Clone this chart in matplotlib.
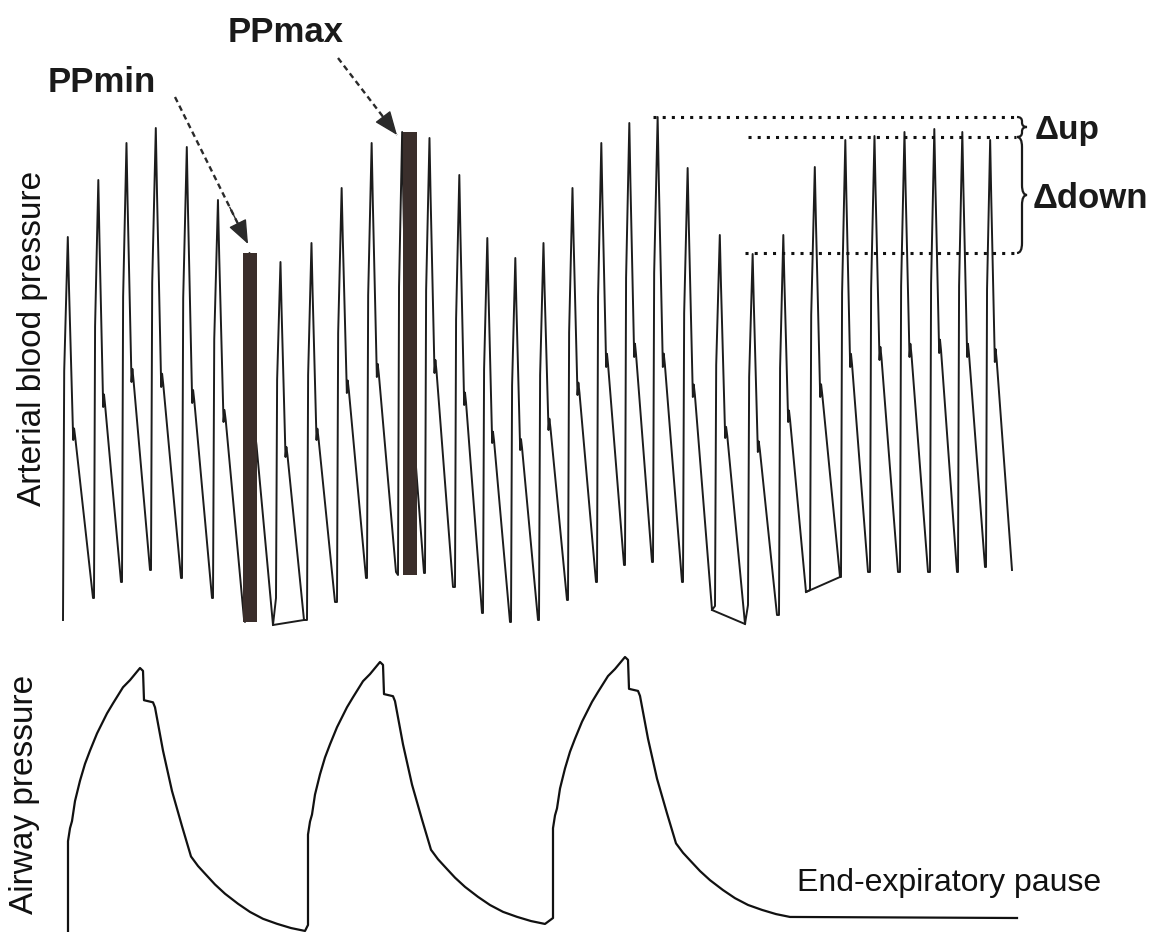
import matplotlib
matplotlib.use("Agg")
import matplotlib.pyplot as plt
from matplotlib.path import Path
from matplotlib.patches import PathPatch

plt.rcParams["font.family"] = ["Liberation Sans", "DejaVu Sans"]

# ---- arterial blood pressure, one entry per beat (time in s, pressure in mmHg)
BEAT_ONSET = [0.00, 0.31, 0.59, 0.88, 1.19, 1.50, 1.82, 2.13, 2.44, 2.74, 3.04,
              3.35, 3.62, 3.92, 4.20, 4.48, 4.76, 5.05, 5.34, 5.62, 5.90, 6.20,
              6.52, 6.85, 7.16, 7.47, 7.78, 8.07, 8.37, 8.67, 8.95, 9.23]
BEAT_END = [0.30, 0.58, 0.87, 1.18, 1.49, 1.81, 2.10, 2.41, 2.72, 3.03, 3.33,
            3.61, 3.90, 4.19, 4.47, 4.75, 5.04, 5.33, 5.61, 5.89, 6.19, 6.49,
            6.82, 7.14, 7.43, 7.77, 8.05, 8.35, 8.65, 8.94, 9.22, 9.49]
BEAT_TROUGH = [41.25, 46.75, 50.75, 53.75, 51.75, 46.75, 40.75, 46.75, 41.25, 45.75,
               51.75, 52.5, 53.0, 49.5, 43.0, 40.75, 41.25, 46.25, 50.75, 55.0,
               55.75, 50.75, 44.75, 45.0, 42.5, 48.75, 52.0, 53.25, 53.25, 53.25,
               53.25, 54.5]
BEAT_PEAK = [137.0, 151.25, 160.5, 164.25, 159.5, 146.25, 133.0, 130.75, 135.5, 149.25,
             160.5, 163.25, 161.75, 152.5, 136.75, 131.75, 135.5, 149.25, 160.5, 165.5,
             167.0, 154.25, 137.5, 132.75, 137.5, 154.5, 161.25, 162.25, 163.25, 164.0,
             163.25, 161.25]
BEAT_NOTCH = [86.25, 94.5, 100.75, 99.5, 95.5, 90.75, 84.5, 82.0, 86.25, 98.0,
              102.0, 103.25, 103.0, 95.0, 85.5, 83.75, 88.75, 97.5, 104.5, 107.0,
              104.5, 97.0, 86.75, 83.25, 90.75, 97.0, 104.5, 106.25, 107.0, 108.0,
              107.0, 105.75]
BEAT_END_P = [46.75, 50.75, 53.75, 51.75, 46.75, 41.5, 40.0, 41.25, 45.75, 51.75,
              53.25, 53.0, 49.5, 43.0, 40.75, 41.25, 46.25, 50.75, 55.0, 55.75,
              50.75, 43.75, 40.25, 42.5, 48.25, 52.0, 53.25, 53.25, 53.25, 53.25,
              54.5, 53.75]

# recorder glitches: bottom line joining the ends of two consecutive beats
BOX_BEATS = [(6, 7), (21, 22), (24, 25)]

# pulse pressure bars (PPmin, PPmax)
PP_BEAT = [6, 11]
PP_BAR_T = [1.87, 3.47]
PP_LABELS = ["PPmin", "PPmax"]

# systolic reference levels: maximum, apnea reference, minimum
SYS_LEVELS = [167.0, 162.0, 133.0]
SYS_LEVEL_START = [5.90, 6.85, 6.82]
SYS_LEVEL_END = 9.53

# ---- airway pressure (cmH2O)
BREATH_ONSET = [0.05, 2.45, 4.90]
BREATH_PEAK = [28.2, 28.8, 29.3]
BREATH_BASE = [1.8, 2.5, 3.2]
PAUSE_END = 9.54
# one breath: seconds after onset, fraction of peak
AW_T = [0.00, 0.00, 0.02, 0.04, 0.07, 0.12, 0.17, 0.22, 0.29, 0.39, 0.45, 0.55,
        0.62, 0.72, 0.75, 0.76, 0.85, 0.87, 0.95, 1.04, 1.14, 1.23, 1.30, 1.37,
        1.47, 1.57, 1.70, 1.82, 1.95, 2.09, 2.23, 2.37]
AW_F = [0.0, 0.344, 0.393, 0.420, 0.496, 0.573, 0.637, 0.687, 0.752, 0.828, 0.866,
        0.927, 0.954, 1.0, 0.989, 0.878, 0.870, 0.851, 0.687, 0.534, 0.401, 0.286,
        0.250, 0.221, 0.180, 0.145, 0.107, 0.076, 0.050, 0.031, 0.015, 0.004]

# beat morphology (fraction of the beat length)
SHAPE_F = [0.00, 0.04, 0.16, 0.20, 0.34, 0.37, 0.41, 1.00]

INK = "#1c1c1c"


def beat_points(i):
    on, end = BEAT_ONSET[i], BEAT_END[i]
    tr, pk, n, ep = BEAT_TROUGH[i], BEAT_PEAK[i], BEAT_NOTCH[i], BEAT_END_P[i]
    pp = pk - tr
    vals = [tr, tr + 0.65 * pp, pk, pk - 0.25 * (pk - n), n,
            n + 0.03 * pp, n + 0.005 * pp, ep]
    ts = [on + f * (end - on) for f in SHAPE_F]
    return ts, vals


def draw_brace(ax, x, y_top, y_bot, width, **kw):
    ym = (y_top + y_bot) / 2
    q = min((y_top - y_bot) * 0.22, 2.5)
    xm = x + width * 0.5
    verts = [(x, y_top), (xm, y_top), (xm, y_top - q), (xm, ym + q),
             (xm, ym), (x + width, ym), (xm, ym), (xm, ym - q),
             (xm, y_bot + q), (xm, y_bot), (x, y_bot)]
    codes = [Path.MOVETO, Path.CURVE3, Path.CURVE3, Path.LINETO,
             Path.CURVE3, Path.CURVE3, Path.CURVE3, Path.CURVE3,
             Path.LINETO, Path.CURVE3, Path.CURVE3]
    ax.add_patch(PathPatch(Path(verts, codes), fill=False, **kw))


fig = plt.figure(figsize=(11.7, 9.32), dpi=100)
fig.patch.set_facecolor("white")

ax = fig.add_axes([0, 292 / 932, 1, 640 / 932])
ax.set_xlim(-0.63, 11.07)
ax.set_ylim(36.25, 196.25)
ax.axis("off")

ax_aw = fig.add_axes([0, 0, 1, 292 / 932])
ax_aw.set_xlim(-0.63, 11.07)
ax_aw.set_ylim(1.8, 31.0)
ax_aw.axis("off")

# arterial trace
trace_t, trace_p = [], []
for i in range(len(BEAT_ONSET)):
    ts, vals = beat_points(i)
    trace_t += ts
    trace_p += vals
ax.plot(trace_t, trace_p, color=INK, lw=1.4)

for a, b in BOX_BEATS:
    ax.plot([BEAT_END[a], BEAT_END[b]], [BEAT_END_P[a], BEAT_END_P[b]],
            color=INK, lw=1.4)

# pulse pressure bars
for t, i in zip(PP_BAR_T, PP_BEAT):
    ax.bar(t, BEAT_PEAK[i] - BEAT_TROUGH[i], bottom=BEAT_TROUGH[i], width=0.14,
           color="#3a2e2b", edgecolor="none", zorder=3)

# labels with dashed arrows
label_pos = [(0.39, 175.5), (2.23, 188.25)]
arrow_from = [(1.12, 172.0), (2.75, 181.75)]
arrow_to = [(1.85, 135.25), (3.34, 162.5)]
for name, lp, a0, a1 in zip(PP_LABELS, label_pos, arrow_from, arrow_to):
    ax.text(lp[0], lp[1], name, fontsize=25, fontweight="bold", color="#1a1a1a",
            ha="center", va="center")
    ax.plot([a0[0], a1[0]], [a0[1], a1[1]], color="#2a2a2a", lw=1.7,
            linestyle=(0, (2.4, 1.7)))
    back = (a1[0] - 0.25 * (a1[0] - a0[0]), a1[1] - 0.25 * (a1[1] - a0[1]))
    ax.annotate("", xy=a1, xytext=back,
                arrowprops=dict(arrowstyle="-|>,head_length=0.75,head_width=0.3",
                                lw=1.0, color="#2a2a2a", mutation_scale=20,
                                shrinkA=0, shrinkB=0))

# systolic reference levels and braces
for lvl, t0 in zip(SYS_LEVELS, SYS_LEVEL_START):
    ax.plot([t0, SYS_LEVEL_END], [lvl, lvl], color="#111111", lw=2.2,
            linestyle=(0, (1, 2.0)), dash_capstyle="butt")

draw_brace(ax, SYS_LEVEL_END + 0.01, SYS_LEVELS[0], SYS_LEVELS[1], 0.1,
           edgecolor="#1a1a1a", lw=1.6)
draw_brace(ax, SYS_LEVEL_END + 0.01, SYS_LEVELS[1], SYS_LEVELS[2], 0.1,
           edgecolor="#1a1a1a", lw=1.6)

ax.text(9.72, (SYS_LEVELS[0] + SYS_LEVELS[1]) / 2 - 1.0, "Δup", fontsize=24,
        fontweight="bold", color="#1a1a1a", ha="left", va="center")
ax.text(9.70, (SYS_LEVELS[1] + SYS_LEVELS[2]) / 2 - 1.0, "Δdown", fontsize=25,
        fontweight="bold", color="#1a1a1a", ha="left", va="center")

# airway trace
aw_t, aw_p = [], []
for on, pk, base in zip(BREATH_ONSET, BREATH_PEAK, BREATH_BASE):
    aw_t += [on + t for t in AW_T]
    aw_p += [base + f * (pk - base) for f in AW_F]
aw_t.append(PAUSE_END)
aw_p.append(BREATH_BASE[-1])
ax_aw.plot(aw_t, aw_p, color="#111111", lw=1.6)

ax_aw.text(7.34, 6.7, "End-expiratory pause", fontsize=23, color="#111111",
           ha="left", va="center")

fig.text(33 / 1170, 1 - 338 / 932, "Arterial blood pressure", rotation=90,
         fontsize=24, color="#111111", ha="center", va="center")
fig.text(25 / 1170, 1 - 794 / 932, "Airway pressure", rotation=90,
         fontsize=24, color="#111111", ha="center", va="center")

fig.savefig("out.png", dpi=100, facecolor="white")
